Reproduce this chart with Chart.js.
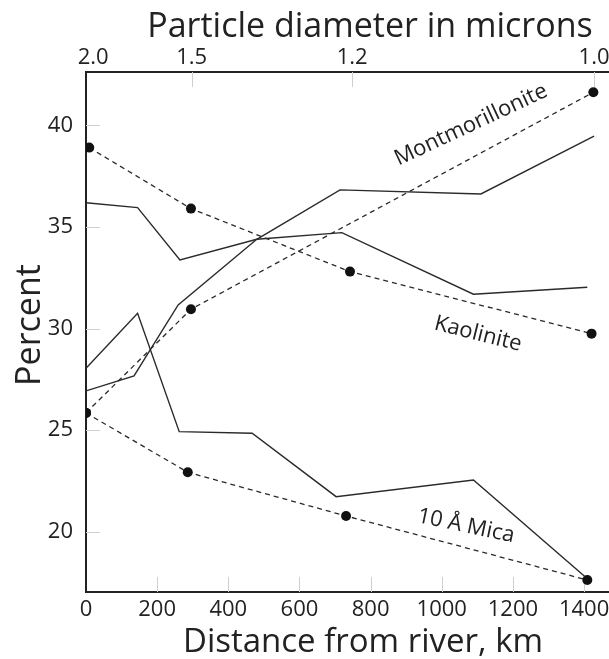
<!DOCTYPE html>
<html>
<head>
<meta charset="utf-8">
<script src="https://cdn.jsdelivr.net/npm/chart.js@4/dist/chart.umd.min.js"></script>
<style>
  body { margin: 0; background: #fff; }
  canvas { display: block; }
</style>
</head>
<body>
<canvas id="clayChart" width="609" height="659"></canvas>
<script>
// Sampled points (distance from river in km, percent)
const kaoliniteDist = [9, 295, 742, 1421];
const kaolinitePct = [38.9, 35.9, 32.8, 29.75];
const montDist = [0, 295, 1426];
const montPct = [25.85, 30.95, 41.62];
const micaDist = [0, 286, 731, 1409];
const micaPct = [25.85, 22.93, 20.78, 17.63];

// Solid traces
const kaoSolidDist = [0, 145, 264, 480, 719, 1089, 1409];
const kaoSolidPct = [36.19, 35.95, 33.37, 34.39, 34.72, 31.69, 32.03];
const montSolidDist = [0, 135, 259, 480, 714, 1110, 1428];
const montSolidPct = [26.93, 27.67, 31.16, 34.39, 36.82, 36.62, 39.47];
const micaSolidDist = [0, 145, 262, 467, 703, 1089, 1402];
const micaSolidPct = [28.05, 30.75, 24.93, 24.85, 21.73, 22.55, 17.80];

// Top axis: particle diameter at the sampling distances
const diameterPos = [20, 297, 748, 1428];
const diameterLabels = ['2.0', '1.5', '1.2', '1.0'];

const FONT = "'Open Sans', sans-serif";
const INK = '#222';

function pts(xs, ys) {
    return xs.map((x, i) => ({ x: x, y: ys[i] }));
}

function solid(xs, ys) {
    return {
        data: pts(xs, ys),
        borderColor: '#2a2a2a',
        borderWidth: 1.4,
        pointRadius: 0,
        tension: 0
    };
}

function dashed(xs, ys) {
    return {
        data: pts(xs, ys),
        borderColor: '#2a2a2a',
        borderWidth: 1.3,
        borderDash: [5, 4],
        pointRadius: 5,
        pointBackgroundColor: '#111',
        pointBorderWidth: 0,
        tension: 0
    };
}

// short light ticks pointing into the plot
const inwardTicks = {
    id: 'inwardTicks',
    beforeDatasetsDraw(chart) {
        const { ctx, chartArea: a } = chart;
        const { x, x2, y } = chart.scales;
        ctx.save();
        ctx.strokeStyle = '#cfcfcf';
        ctx.lineWidth = 1;
        ctx.beginPath();
        x.ticks.forEach(t => {
            if (t.value <= 0) return;
            const px = Math.round(x.getPixelForValue(t.value)) + 0.5;
            ctx.moveTo(px, a.bottom);
            ctx.lineTo(px, a.bottom - 15);
        });
        x2.ticks.forEach((t, i) => {
            if (i === 0) return;
            const px = Math.round(x2.getPixelForValue(t.value)) + 0.5;
            ctx.moveTo(px, a.top);
            ctx.lineTo(px, a.top + 15);
        });
        y.ticks.forEach(t => {
            const py = Math.round(y.getPixelForValue(t.value)) + 0.5;
            ctx.moveTo(a.left, py);
            ctx.lineTo(a.left + 14, py);
        });
        ctx.stroke();
        ctx.restore();
    }
};

// axis titles and curve names
const textLabels = {
    id: 'textLabels',
    afterDraw(chart) {
        const ctx = chart.ctx;
        const put = (text, x, y, angle, size, baseline) => {
            ctx.save();
            ctx.translate(x, y);
            ctx.rotate(angle * Math.PI / 180);
            ctx.font = size + 'px ' + FONT;
            ctx.fillStyle = INK;
            ctx.textAlign = 'center';
            ctx.textBaseline = baseline;
            ctx.fillText(text, 0, 0);
            ctx.restore();
        };
        put('Particle diameter in microns', 370, 37, 0, 34, 'alphabetic');
        put('Distance from river, km', 363, 652, 0, 33, 'alphabetic');
        put('Percent', 40, 325, -90, 34, 'alphabetic');
        put('Montmorillonite', 471, 125, -25, 22, 'middle');
        put('Kaolinite', 478, 334, 14, 22, 'middle');
        put('10 Å Mica', 466, 526, 12, 22, 'middle');
    }
};

const noPad = scale => {
    scale.paddingLeft = 0;
    scale.paddingRight = 0;
    scale.paddingTop = 0;
    scale.paddingBottom = 0;
};

const ctx = document.getElementById('clayChart').getContext('2d');
new Chart(ctx, {
    type: 'line',
    data: {
        datasets: [
            solid(kaoSolidDist, kaoSolidPct),
            solid(montSolidDist, montSolidPct),
            solid(micaSolidDist, micaSolidPct),
            dashed(kaoliniteDist, kaolinitePct),
            dashed(montDist, montPct),
            dashed(micaDist, micaPct)
        ]
    },
    options: {
        responsive: false,
        animation: false,
        layout: { padding: 0, autoPadding: false },
        scales: {
            x: {
                type: 'linear',
                position: 'bottom',
                min: 0,
                max: 1470,
                grid: { display: true, drawOnChartArea: false, drawTicks: false },
                border: { color: INK, width: 2 },
                ticks: {
                    stepSize: 200,
                    includeBounds: false,
                    autoSkip: false,
                    maxRotation: 0,
                    padding: 5,
                    color: INK,
                    font: { family: FONT, size: 22 },
                    callback: value => String(value)
                },
                afterFit(scale) {
                    scale.height = 67;
                    noPad(scale);
                }
            },
            x2: {
                type: 'linear',
                position: 'top',
                min: 0,
                max: 1470,
                grid: { display: true, drawOnChartArea: false, drawTicks: false },
                border: { color: INK, width: 2 },
                afterBuildTicks(scale) {
                    scale.ticks = diameterPos.map(v => ({ value: v }));
                },
                ticks: {
                    autoSkip: false,
                    maxRotation: 0,
                    padding: 1,
                    color: INK,
                    font: { family: FONT, size: 22 },
                    callback: (value, index) => diameterLabels[index]
                },
                afterFit(scale) {
                    scale.height = 72;
                    noPad(scale);
                }
            },
            y: {
                type: 'linear',
                position: 'left',
                min: 17.04,
                max: 42.62,
                grid: { display: true, drawOnChartArea: false, drawTicks: false },
                border: { color: INK, width: 2 },
                ticks: {
                    stepSize: 5,
                    includeBounds: false,
                    padding: 13,
                    color: INK,
                    font: { family: FONT, size: 22 }
                },
                afterFit(scale) {
                    scale.width = 86;
                    noPad(scale);
                }
            }
        },
        plugins: {
            legend: { display: false },
            tooltip: { enabled: false }
        }
    },
    plugins: [inwardTicks, textLabels]
});
</script>
</body>
</html>
